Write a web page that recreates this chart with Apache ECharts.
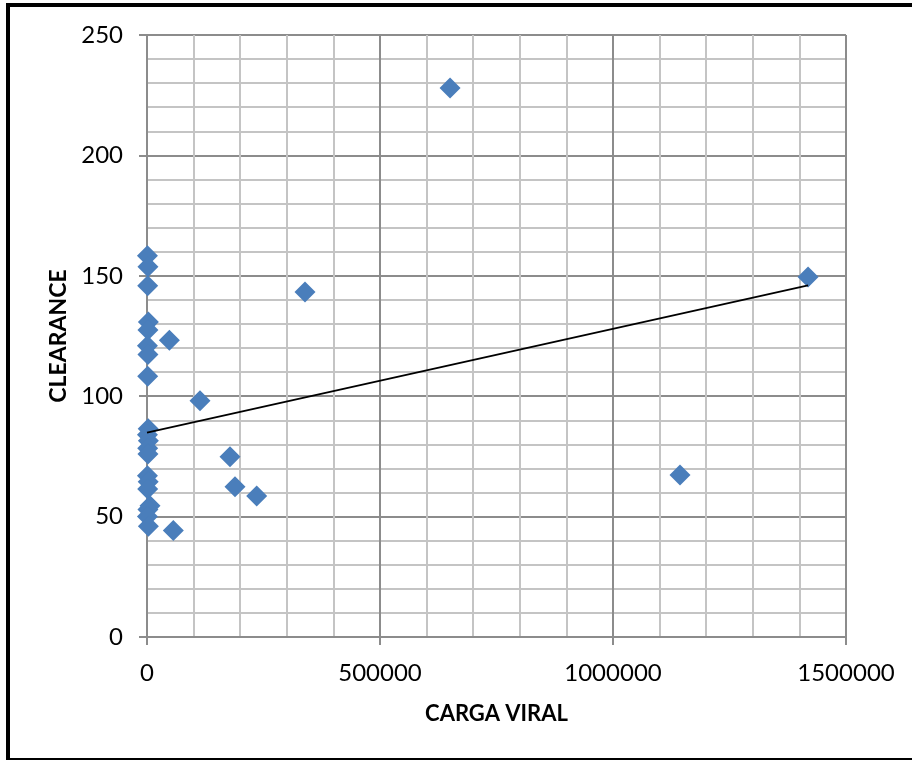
<!DOCTYPE html>
<html>
<head>
<meta charset="utf-8">
<style>
  html, body { margin: 0; padding: 0; background: #fff; }
  #wrap { position: relative; width: 912px; height: 760px; overflow: hidden; }
  #chart { position: absolute; left: 0; top: 0; width: 912px; height: 760px; }
  #frame {
    position: absolute; left: 6px; top: 3px; width: 960px; height: 751px;
    border-left: 4px solid #000; border-top: 4px solid #000; border-bottom: 2px solid #000;
    pointer-events: none;
  }
</style>
<script src="https://cdn.jsdelivr.net/npm/echarts@6/dist/echarts.min.js"></script>
</head>
<body>
<div id="wrap">
  <div id="chart"></div>
  <div id="frame"></div>
</div>
<script>
// Viral load (x) against clearance (y)
const cargaViral = [
  1000, 2000, 1500, 3000, 2000, 48000, 1000, 2000, 1500,
  2500, 1000, 3000, 1500, 2000, 1000, 2500, 1500,
  6400, 2000, 1000, 3000, 56500,
  113700, 178100, 188800, 235400, 339100, 650300, 1143800, 1418600
];
const clearance = [
  158.3, 153.8, 145.9, 130.8, 127.5, 123.2, 121.0, 117.3, 108.3,
  86.5, 84.0, 81.5, 78.4, 76.0, 67.0, 64.5, 61.5,
  54.5, 53.0, 50.0, 46.0, 44.2,
  98.1, 74.9, 62.4, 58.6, 143.3, 228.0, 67.3, 149.5
];

// Linear trend line endpoints
const trendX = [0, 1418600];
const trendY = [84.9, 146.0];

// Axis ranges
const xTicks = { min: 0, max: 1500000, step: 500000 };
const yTicks = { min: 0, max: 250, step: 50 };

const points = cargaViral.map((v, i) => [v, clearance[i]]);
const trend = trendX.map((v, i) => [v, trendY[i]]);

const FONT = 'Lato';
const chart = echarts.init(document.getElementById('chart'), null, { renderer: 'canvas' });

const majorLine = { color: '#8c8c8c', width: 2 };
const minorLine = { color: '#c4c4c4', width: 2 };

chart.setOption({
  backgroundColor: '#fff',
  animation: false,
  grid: { left: 147, right: 66, top: 35, bottom: 123, containLabel: false },
  xAxis: {
    type: 'value',
    min: xTicks.min, max: xTicks.max, interval: xTicks.step,
    name: 'CARGA VIRAL',
    nameLocation: 'middle',
    nameGap: 66,
    nameTextStyle: { fontFamily: FONT, fontWeight: 'bold', fontSize: 22, color: '#000' },
    axisLine: { show: true, lineStyle: majorLine },
    axisTick: { show: true, length: 8, lineStyle: majorLine },
    axisLabel: { fontFamily: FONT, fontSize: 24, color: '#000', margin: 24, formatter: v => String(v) },
    splitLine: { show: true, lineStyle: majorLine },
    minorTick: { show: false, splitNumber: 5 },
    minorSplitLine: { show: true, lineStyle: minorLine }
  },
  yAxis: {
    type: 'value',
    min: yTicks.min, max: yTicks.max, interval: yTicks.step,
    name: 'CLEARANCE',
    nameLocation: 'middle',
    nameGap: 76,
    nameTextStyle: { fontFamily: FONT, fontWeight: 'bold', fontSize: 23, color: '#000' },
    axisLine: { show: true, lineStyle: majorLine },
    axisTick: { show: true, length: 8, lineStyle: majorLine },
    axisLabel: { fontFamily: FONT, fontSize: 24, color: '#000', margin: 24, formatter: v => String(v) },
    splitLine: { show: true, lineStyle: majorLine },
    minorTick: { show: false, splitNumber: 5 },
    minorSplitLine: { show: true, lineStyle: minorLine }
  },
  series: [
    {
      type: 'line',
      data: trend,
      symbol: 'none',
      lineStyle: { color: '#000', width: 1.8 },
      z: 3
    },
    {
      type: 'scatter',
      data: points,
      symbol: 'diamond',
      symbolSize: 21,
      itemStyle: { color: '#4a7ebb', opacity: 1 },
      z: 2
    }
  ]
});
</script>
</body>
</html>
